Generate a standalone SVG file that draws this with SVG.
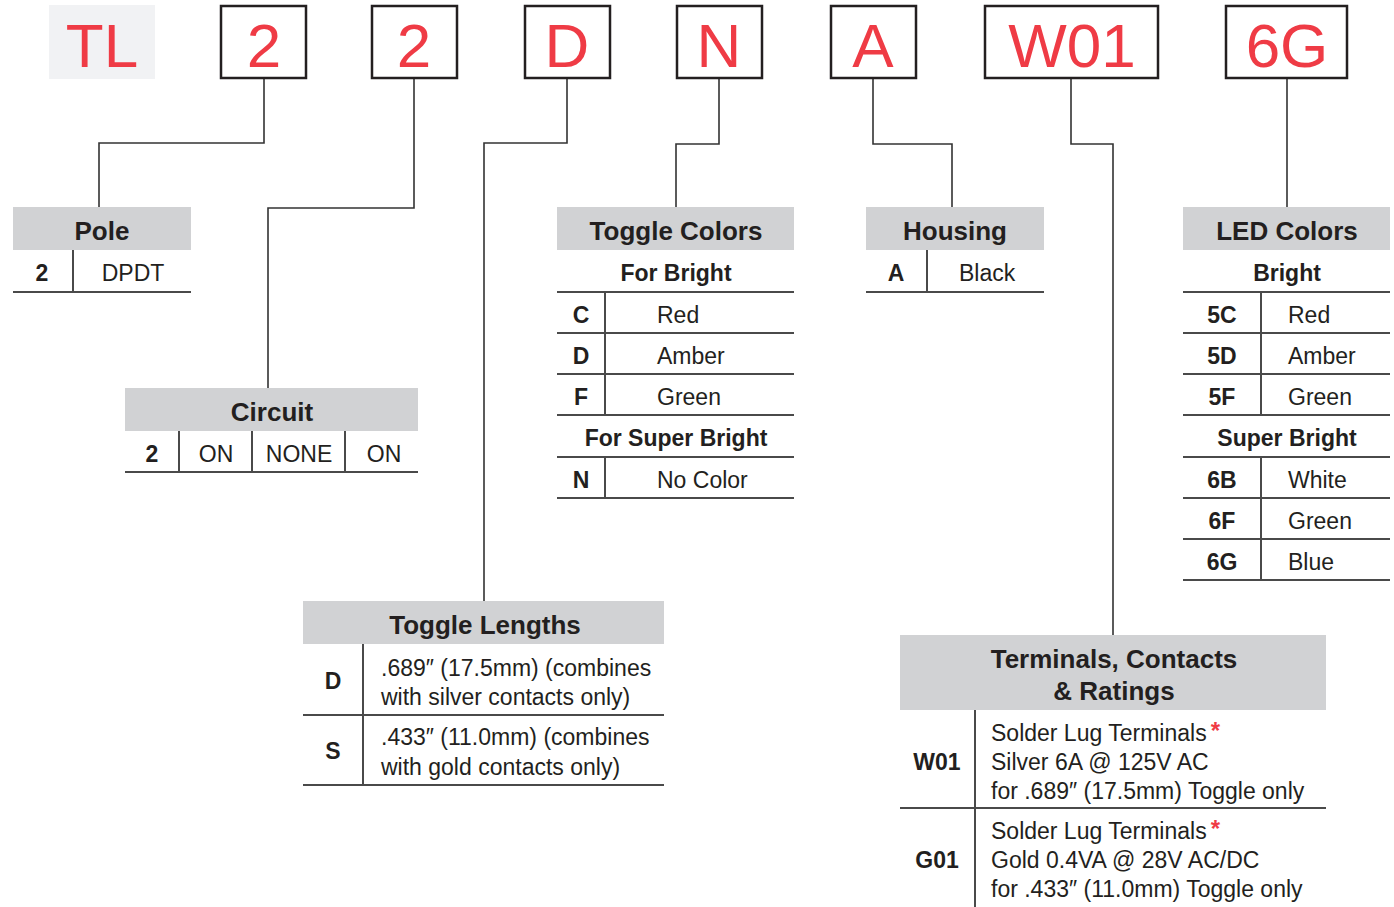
<svg xmlns="http://www.w3.org/2000/svg" width="1394" height="907" viewBox="0 0 1394 907">
<style>
.code{font-family:"Liberation Sans",Arial,sans-serif;font-size:62px;fill:#ef3b45;text-anchor:middle}
.box{fill:#fff;stroke:#231f20;stroke-width:2.5}
.hdr{fill:#d1d2d4}
.ht{font-family:"Liberation Sans",Arial,sans-serif;font-weight:bold;font-size:26px;fill:#231f20;text-anchor:middle}
.sub{font-family:"Liberation Sans",Arial,sans-serif;font-weight:bold;font-size:23px;fill:#231f20;text-anchor:middle}
.key{font-family:"Liberation Sans",Arial,sans-serif;font-weight:bold;font-size:23px;fill:#231f20;text-anchor:middle}
.val{font-family:"Liberation Sans",Arial,sans-serif;font-size:23px;fill:#231f20}
.vc{text-anchor:middle}
.ln{stroke:#4a4a4a;stroke-width:2;fill:none}
.conn{stroke:#333;stroke-width:1.6;fill:none}
.ast{fill:#ef3b45;font-weight:bold;font-size:24px}
</style>
<g id="connectors">
<polyline class="conn" points="264,78 264,143 99,143 99,207"/>
<polyline class="conn" points="414,78 414,208 268,208 268,388"/>
<polyline class="conn" points="567,78 567,143 484,143 484,601"/>
<polyline class="conn" points="719,78 719,144 676,144 676,207"/>
<polyline class="conn" points="873,78 873,144 952,144 952,207"/>
<polyline class="conn" points="1071,78 1071,144 1113,144 1113,635"/>
<polyline class="conn" points="1287,78 1287,207"/>
</g>
<g id="code-TL"><rect x="49" y="5" width="106" height="74" fill="#f1f2f4"/><text class="code" x="102" y="67">TL</text></g>
<g id="code-pole"><rect class="box" x="221" y="6" width="85" height="72"/><text class="code" x="264" y="67">2</text></g>
<g id="code-circuit"><rect class="box" x="372" y="6" width="85" height="72"/><text class="code" x="414" y="67">2</text></g>
<g id="code-length"><rect class="box" x="525" y="6" width="85" height="72"/><text class="code" x="567" y="67">D</text></g>
<g id="code-toggle"><rect class="box" x="677" y="6" width="85" height="72"/><text class="code" x="719" y="67">N</text></g>
<g id="code-housing"><rect class="box" x="831" y="6" width="85" height="72"/><text class="code" x="873" y="67">A</text></g>
<g id="code-term"><rect class="box" x="985" y="6" width="173" height="72"/><text class="code" x="1072" y="67">W01</text></g>
<g id="code-led"><rect class="box" x="1226" y="6" width="121" height="72"/><text class="code" x="1287" y="67">6G</text></g>

<g id="pole">
<rect class="hdr" x="13" y="207" width="178" height="43"/>
<text class="ht" x="102" y="240">Pole</text>
<line class="ln" x1="73" y1="250" x2="73" y2="292"/>
<line class="ln" x1="13" y1="292" x2="191" y2="292"/>
<text class="key" x="42" y="281">2</text>
<text class="val vc" x="133" y="281">DPDT</text>
</g>

<g id="circuit">
<rect class="hdr" x="125" y="388" width="293" height="43"/>
<text class="ht" x="272" y="421">Circuit</text>
<line class="ln" x1="179" y1="431" x2="179" y2="472"/>
<line class="ln" x1="252" y1="431" x2="252" y2="472"/>
<line class="ln" x1="345" y1="431" x2="345" y2="472"/>
<line class="ln" x1="125" y1="472" x2="418" y2="472"/>
<text class="key" x="152" y="462">2</text>
<text class="val vc" x="216" y="462">ON</text>
<text class="val vc" x="299" y="462">NONE</text>
<text class="val vc" x="384" y="462">ON</text>
</g>

<g id="toggle-colors">
<rect class="hdr" x="557" y="207" width="237" height="43"/>
<text class="ht" x="676" y="240">Toggle Colors</text>
<text class="sub" x="676" y="281">For Bright</text>
<line class="ln" x1="557" y1="292" x2="794" y2="292"/>
<line class="ln" x1="557" y1="333" x2="794" y2="333"/>
<line class="ln" x1="557" y1="374" x2="794" y2="374"/>
<line class="ln" x1="557" y1="415" x2="794" y2="415"/>
<line class="ln" x1="557" y1="457" x2="794" y2="457"/>
<line class="ln" x1="557" y1="498" x2="794" y2="498"/>
<line class="ln" x1="605" y1="292" x2="605" y2="415"/>
<line class="ln" x1="605" y1="457" x2="605" y2="498"/>
<text class="key" x="581" y="323">C</text><text class="val" x="657" y="323">Red</text>
<text class="key" x="581" y="364">D</text><text class="val" x="657" y="364">Amber</text>
<text class="key" x="581" y="405">F</text><text class="val" x="657" y="405">Green</text>
<text class="sub" x="676" y="446">For Super Bright</text>
<text class="key" x="581" y="488">N</text><text class="val" x="657" y="488">No Color</text>
</g>

<g id="housing">
<rect class="hdr" x="866" y="207" width="178" height="43"/>
<text class="ht" x="955" y="240">Housing</text>
<line class="ln" x1="927" y1="250" x2="927" y2="292"/>
<line class="ln" x1="866" y1="292" x2="1044" y2="292"/>
<text class="key" x="896" y="281">A</text>
<text class="val" x="959" y="281">Black</text>
</g>

<g id="led-colors">
<rect class="hdr" x="1183" y="207" width="207" height="43"/>
<text class="ht" x="1287" y="240">LED Colors</text>
<text class="sub" x="1287" y="281">Bright</text>
<line class="ln" x1="1183" y1="292" x2="1390" y2="292"/>
<line class="ln" x1="1183" y1="333" x2="1390" y2="333"/>
<line class="ln" x1="1183" y1="374" x2="1390" y2="374"/>
<line class="ln" x1="1183" y1="415" x2="1390" y2="415"/>
<line class="ln" x1="1183" y1="457" x2="1390" y2="457"/>
<line class="ln" x1="1183" y1="498" x2="1390" y2="498"/>
<line class="ln" x1="1183" y1="539" x2="1390" y2="539"/>
<line class="ln" x1="1183" y1="580" x2="1390" y2="580"/>
<line class="ln" x1="1261" y1="292" x2="1261" y2="415"/>
<line class="ln" x1="1261" y1="457" x2="1261" y2="580"/>
<text class="key" x="1222" y="323">5C</text><text class="val" x="1288" y="323">Red</text>
<text class="key" x="1222" y="364">5D</text><text class="val" x="1288" y="364">Amber</text>
<text class="key" x="1222" y="405">5F</text><text class="val" x="1288" y="405">Green</text>
<text class="sub" x="1287" y="446">Super Bright</text>
<text class="key" x="1222" y="488">6B</text><text class="val" x="1288" y="488">White</text>
<text class="key" x="1222" y="529">6F</text><text class="val" x="1288" y="529">Green</text>
<text class="key" x="1222" y="570">6G</text><text class="val" x="1288" y="570">Blue</text>
</g>

<g id="toggle-lengths">
<rect class="hdr" x="303" y="601" width="361" height="43"/>
<text class="ht" x="485" y="634">Toggle Lengths</text>
<line class="ln" x1="363" y1="644" x2="363" y2="785"/>
<line class="ln" x1="303" y1="715" x2="664" y2="715"/>
<line class="ln" x1="303" y1="785" x2="664" y2="785"/>
<text class="key" x="333" y="689">D</text>
<text class="val" x="381" y="676">.689″ (17.5mm) (combines</text>
<text class="val" x="381" y="705">with silver contacts only)</text>
<text class="key" x="333" y="759">S</text>
<text class="val" x="381" y="745">.433″ (11.0mm) (combines</text>
<text class="val" x="381" y="775">with gold contacts only)</text>
</g>

<g id="terminals">
<rect class="hdr" x="900" y="635" width="426" height="75"/>
<text class="ht" x="1114" y="668">Terminals, Contacts</text>
<text class="ht" x="1114" y="700">&amp; Ratings</text>
<line class="ln" x1="975" y1="710" x2="975" y2="907"/>
<line class="ln" x1="900" y1="808" x2="1326" y2="808"/>
<text class="key" x="937" y="770">W01</text>
<text class="val" x="991" y="741">Solder Lug Terminals<tspan class="ast" dx="4" dy="-2">*</tspan></text>
<text class="val" x="991" y="770">Silver 6A @ 125V AC</text>
<text class="val" x="991" y="799">for .689″ (17.5mm) Toggle only</text>
<text class="key" x="937" y="868">G01</text>
<text class="val" x="991" y="839">Solder Lug Terminals<tspan class="ast" dx="4" dy="-2">*</tspan></text>
<text class="val" x="991" y="868">Gold 0.4VA @ 28V AC/DC</text>
<text class="val" x="991" y="897">for .433″ (11.0mm) Toggle only</text>
</g>
</svg>
